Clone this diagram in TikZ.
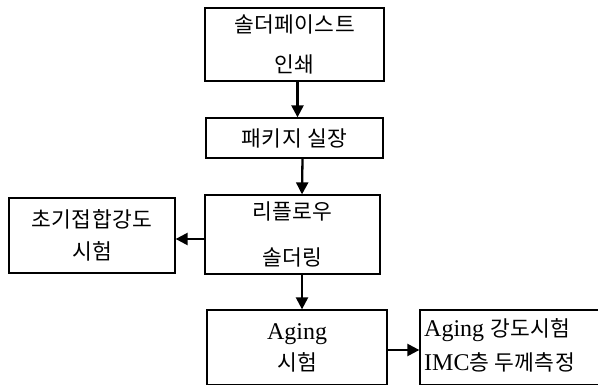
\documentclass[tikz,border=0pt]{standalone}
\usepackage{fontspec}
\setmainfont{Liberation Serif}
\newfontfamily\kr[LetterSpace=2]{Noto Sans CJK KR}
\usetikzlibrary{arrows.meta}
\begin{document}
\begin{tikzpicture}[x=1pt,y=-1pt,
  box/.style={draw, line width=1.3pt, rectangle, inner sep=0pt, align=center},
  flow/.style={line width=2.3pt, -{Triangle[length=12pt,width=12pt]}},
  kt/.style={font=\kr\fontsize{21.5}{21.5}\selectfont},
]
\useasboundingbox (0,0) rectangle (598,385);
\clip (0,0) rectangle (598,385);
\fill[white] (0,0) rectangle (598,385);

\node[box, kt, minimum width=179pt, minimum height=73pt] (b1) at (294.5,44.5)
  {솔더페이스트\\[18pt]인쇄};
\node[box, kt, minimum width=177pt, minimum height=40pt] (b2) at (294.5,138)
  {패키지 실장};
\node[box, kt, minimum width=175pt, minimum height=79pt] (b3) at (292.5,234.5)
  {리플로우\\[24pt]솔더링};
\node[box, kt, minimum width=166pt, minimum height=75pt] (bl) at (92,235.5)
  {초기접합강도\\[11pt]시험};
\node[box, minimum width=180pt, minimum height=75pt] (b4) at (297,347.5)
  {\fontsize{24}{24}\selectfont Aging\\[7pt]{\kr\fontsize{21.5}{21.5}\selectfont 시험}};
\node[box, minimum width=200pt, minimum height=75pt] (b5) at (520,347.5) {};
\node[anchor=west, align=left, inner sep=0pt] (t5) at (424,345)
  {\fontsize{24}{24}\selectfont Aging\hspace{6pt}{\kr\fontsize{21.5}{21.5}\selectfont 강도시험}\\[10pt]
   \fontsize{24}{24}\selectfont IMC{\kr\fontsize{21.5}{21.5}\selectfont 층 두께측정}};

\draw[flow] ([xshift=3pt]b1.south) -- ([xshift=3pt]b2.north);
\draw[flow] ([xshift=8pt]b2.south) -- ([xshift=9.5pt]b3.north);
\draw[flow] (b3.south -| 302,0) -- (b4.north -| 302,0);
\draw[flow] (b3.west |- 0,239) -- (bl.east |- 0,239);
\draw[flow] (b4.east |- 0,350) -- (b5.west |- 0,350);
\end{tikzpicture}
\end{document}
